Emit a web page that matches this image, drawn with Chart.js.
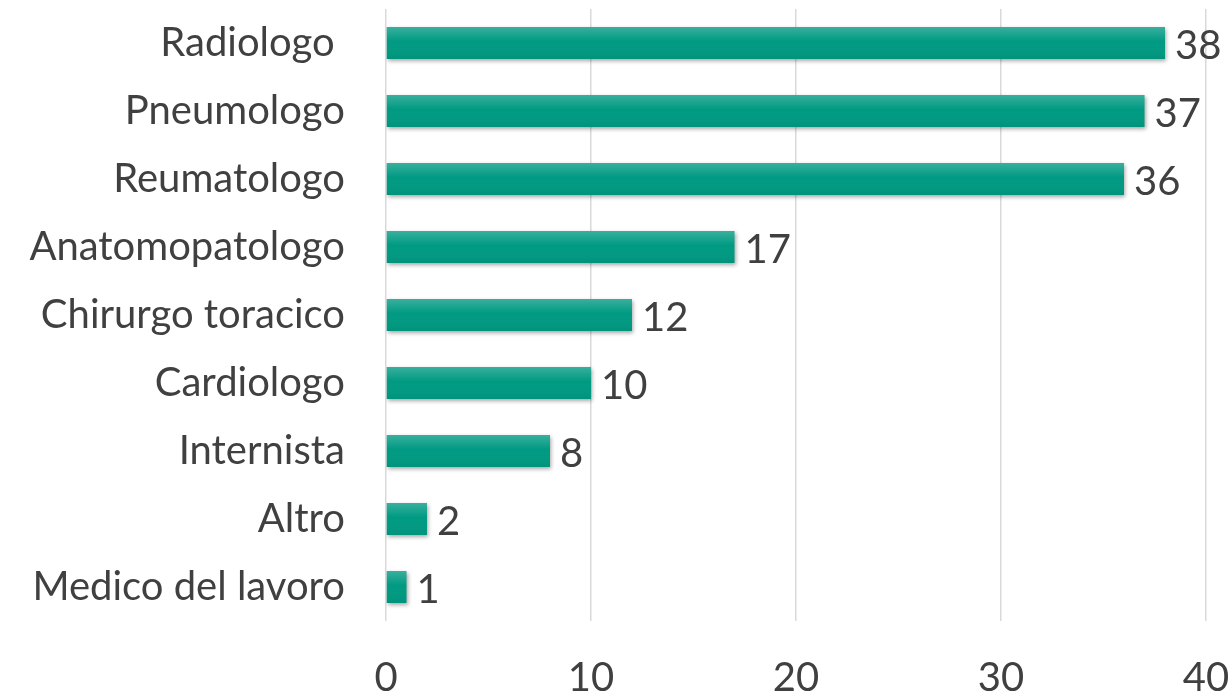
<!DOCTYPE html>
<html>
<head>
<meta charset="utf-8">
<script src="https://cdn.jsdelivr.net/npm/chart.js@4"></script>
<style>
  html, body { margin: 0; padding: 0; background: #fff; }
  #wrap { width: 1232px; height: 698px; }
</style>
</head>
<body>
<div id="wrap"><canvas id="bar-chart"></canvas></div>
<script>
const categories = ['Radiologo ', 'Pneumologo', 'Reumatologo', 'Anatomopatologo',
  'Chirurgo toracico', 'Cardiologo', 'Internista', 'Altro', 'Medico del lavoro'];
const counts = [38, 37, 36, 17, 12, 10, 8, 2, 1];
const xTicks = [0, 10, 20, 30, 40];

const textColor = '#404040';
const fontFamily = 'Lato, "Open Sans", sans-serif';

// soft drop shadow under bars
const barShadow = {
  id: 'barShadow',
  beforeDatasetDraw(chart) {
    const ctx = chart.ctx;
    ctx.save();
    ctx.shadowColor = 'rgba(0,0,0,0.35)';
    ctx.shadowBlur = 4;
    ctx.shadowOffsetX = 1;
    ctx.shadowOffsetY = 2;
  },
  afterDatasetDraw(chart) {
    chart.ctx.restore();
  }
};

// lighter top edge + value labels
const barExtras = {
  id: 'barExtras',
  afterDatasetsDraw(chart) {
    const ctx = chart.ctx;
    const meta = chart.getDatasetMeta(0);
    ctx.save();
    meta.data.forEach((bar, i) => {
      const top = bar.y - bar.height / 2;
      const g = ctx.createLinearGradient(0, top, 0, top + bar.height);
      g.addColorStop(0, 'rgba(255,255,255,0.22)');
      g.addColorStop(0.45, 'rgba(255,255,255,0)');
      g.addColorStop(1, 'rgba(0,0,0,0.05)');
      ctx.fillStyle = g;
      ctx.fillRect(bar.base, top, bar.x - bar.base, bar.height);

      ctx.fillStyle = textColor;
      ctx.font = '40px ' + fontFamily;
      ctx.textAlign = 'left';
      ctx.textBaseline = 'middle';
      ctx.fillText(String(counts[i]), bar.x + 10, bar.y + 3);
    });
    ctx.restore();
  }
};

new Chart(document.getElementById('bar-chart'), {
  type: 'bar',
  data: {
    labels: categories,
    datasets: [{
      data: counts,
      backgroundColor: '#009a82',
      borderWidth: 0,
      barPercentage: 0.94,
      categoryPercentage: 0.5
    }]
  },
  options: {
    indexAxis: 'y',
    responsive: true,
    maintainAspectRatio: false,
    animation: false,
    layout: { padding: { top: 9, right: 26, left: 0, bottom: 0 } },
    plugins: { legend: { display: false }, tooltip: { enabled: false } },
    scales: {
      x: {
        min: 0,
        max: 40,
        afterBuildTicks(scale) { scale.ticks = xTicks.map(v => ({ value: v })); },
        afterFit(scale) {
          scale.height = 77;
          scale.paddingLeft = 0;
          scale.paddingRight = 0;
        },
        grid: { color: '#d9d9d9', lineWidth: 1.5, drawTicks: false },
        border: { display: false },
        ticks: { color: textColor, font: { family: fontFamily, size: 40 }, padding: 33 }
      },
      y: {
        afterFit(scale) {
          scale.width = 386;
          scale.paddingTop = 0;
          scale.paddingBottom = 0;
        },
        grid: { display: false },
        border: { display: false },
        ticks: { color: textColor, font: { family: fontFamily, size: 40 }, padding: 33 }
      }
    }
  },
  plugins: [barShadow, barExtras]
});
</script>
</body>
</html>
